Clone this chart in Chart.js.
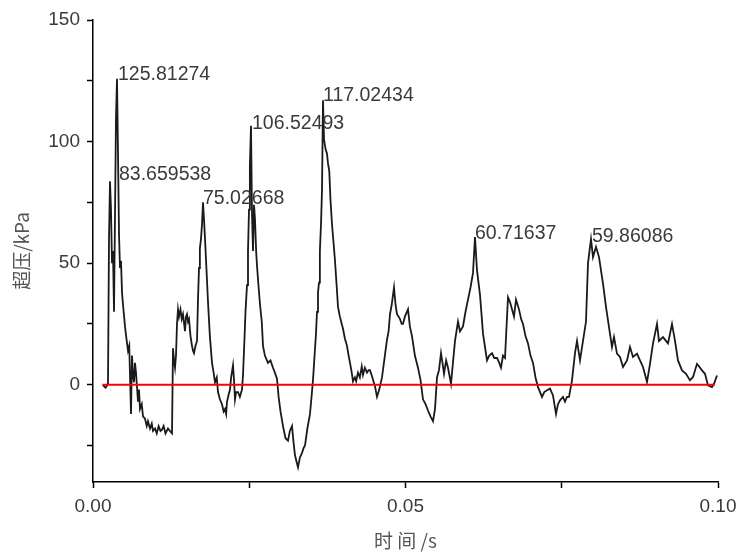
<!DOCTYPE html>
<html><head><meta charset="utf-8">
<script src="https://cdn.jsdelivr.net/npm/chart.js@4"></script>
<style>html,body{margin:0;padding:0;background:#fff}#wrap{width:737px;height:554px;position:relative}</style>
</head><body><div id="wrap"><canvas id="c" width="737" height="554"></canvas></div>
<script>
// time in seconds
const timeS = [
0.0016,0.0018,0.0020,0.0022,0.0024,0.00256,0.00272,0.00288,0.00304,0.0032,
0.00336,0.00352,0.00368,0.00384,0.004,0.00416,0.00432,0.00448,0.00464,0.0048,
0.00512,0.0053,0.0056,0.0058,0.00608,0.00624,0.0064,0.00656,0.00672,0.00688,
0.0072,0.00736,0.00752,0.0078,0.008,0.00832,0.0086,0.0088,0.00912,0.0094,
0.0096,0.00992,0.0102,0.0105,0.0108,0.01104,0.0113,0.0116,0.012,0.0123,
0.01264,0.0128,0.01296,0.01312,0.01328,0.01344,0.0136,0.01376,0.014,0.0142,
0.0144,0.01472,0.01488,0.01504,0.0152,0.01536,0.0156,0.01584,0.016,0.01616,
0.0164,0.01664,0.0168,0.01696,0.0171,0.01728,0.01744,0.0176,0.01776,0.01792,
0.0182,0.0184,0.0187,0.01904,0.0193,0.01952,0.0198,0.02,0.0203,0.02064,
0.0209,0.02112,0.0213,0.02144,0.0217,0.02192,0.0221,0.0224,0.02256,0.02272,
0.0229,0.0232,0.0235,0.02384,0.024,0.02416,0.0244,0.02464,0.0248,0.02496,
0.0251,0.02528,0.02544,0.0256,0.02576,0.02592,0.0261,0.02624,0.0265,0.02672,
0.027,0.0272,0.0275,0.028,0.0284,0.0288,0.0291,0.02944,0.0297,0.03,
0.0304,0.0308,0.0312,0.0315,0.03184,0.0321,0.03232,0.0326,0.0328,0.0331,
0.03344,0.0337,0.03392,0.0343,0.03472,0.035,0.0352,0.0355,0.03568,0.03584,
0.036,0.03616,0.0363,0.03648,0.03664,0.0368,0.03696,0.0372,0.03744,0.0376,
0.0378,0.038,0.03824,0.0385,0.03872,0.039,0.0392,0.0395,0.0398,0.04,
0.0403,0.04064,0.0409,0.04112,0.0414,0.0416,0.0419,0.0421,0.0424,0.0427,
0.043,0.0432,0.0435,0.04384,0.0441,0.04432,0.0447,0.04512,0.04544,0.0458,
0.04624,0.0466,0.04704,0.0473,0.04752,0.0478,0.04816,0.0484,0.04864,0.0489,
0.04912,0.0494,0.0496,0.0499,0.0504,0.0507,0.05104,0.0515,0.052,0.0524,
0.0528,0.0532,0.0536,0.054,0.0544,0.05472,0.05504,0.05536,0.05568,0.05592,
0.05616,0.0565,0.0568,0.05728,0.05792,0.0584,0.05872,0.0592,0.0596,0.06,
0.0604,0.0608,0.06112,0.06144,0.06192,0.0624,0.06304,0.0634,0.06384,0.0642,
0.06464,0.065,0.06528,0.0656,0.06592,0.0664,0.06672,0.06704,0.06736,0.06768,
0.06816,0.0685,0.0688,0.0692,0.0696,0.07,0.0704,0.0708,0.0712,0.07184,
0.0722,0.07264,0.07312,0.0736,0.07408,0.0744,0.07472,0.0752,0.07552,0.07584,
0.07616,0.07664,0.07712,0.07744,0.07792,0.0784,0.07888,0.0792,0.07968,0.08,
0.08048,0.08096,0.0816,0.08208,0.08256,0.08304,0.08336,0.08384,0.08432,0.0848,
0.08544,0.08592,0.0864,0.08704,0.08752,0.088,0.08864,0.08912,0.0896,0.09024,
0.09056,0.0912,0.092,0.09264,0.09312,0.0936,0.09424,0.09488,0.09552,0.096,
0.09664,0.09744,0.09792,0.0984,0.09904,0.09936,0.09984
];
// overpressure in kPa
const overpressure = [
0,-0.8,-1.2,-0.5,0.5,60,83.66,72,50,55,
30,70,110,125.81,95,62,48,51,38,33,
24,20,14,16,-12,12,4,1,9,5,
-7,-2,-10,-8,-13,-14,-17,-15,-18,-16,
-19,-18,-20,-17,-19,-18.5,-17,-20,-18,-19,
-20,15,10,7,12,25,31,28,31,27,
29,22,28,29,26,27,20,16,14,13,
16,18,35,48,56,60,66,75.03,68,60,
45,34,20,9,5,1,3,-3,-6,-8,
-11,-10,-12,-7,-4,-2,3,8,2,-6,
-3,-3,-5,-2,4,14,30,41,55,72,
90,106.52,70,55,74,68,55,49,40,33,
26,16,12,9,10,7,5,2.5,-5,-11,
-17,-22,-23,-19,-17,-24,-29,-32,-34,-30,
-28,-26,-25,-18,-12,-4,2,14,21,30,
38,42,55,66,80,117.02,101,97,95,91,
88,76,66,58,51,40,32,28,25,23,
19,16,12,9,5,1.4,3,1.5,5,3,
7.5,4,7,5,6,6,3,-0.7,-5,-2,
3,10,18.5,22,29,33,40,33,29,28,
27,25,25,28,31,24,20,12,7,2,
-6,-8,-10.6,-13,-15,-10,3,6,13,9,
4.5,10,7,0.4,18,26,22,24,30,35,
40,46,60.72,47,37,21,10,12,13,11,
11,9,7,12,11,36,34,31,28,35,
31,27,25,20,17,12,9,3,-1,-5,
-3,-2.3,-1.6,-4.4,-12,-8,-6.4,-5,-7,-5,
-5,1.8,13,18,10,18,26,50,59.86,52.5,
56.7,52.5,41.6,32,23.7,15.5,19.6,12.8,11.4,7.3,
10,15.5,11.4,12.8,10,7.3,1.1,8.6,17,25,
18,19.6,17,25,18,10,5.9,4.5,1.8,3.2,
8.6,5.9,4.5,-0.3,-1,0.4,3.8
];
const zeroLineT = [0.0015, 0.0995];
const zeroLineV = [0, 0];
const peakLabels = ['125.81274','83.659538','75.02668','106.52493','117.02434','60.71637','59.86086'];
const peakLabelT = [0.0040, 0.00416, 0.0176, 0.02544, 0.0368, 0.06112, 0.07984];
const peakLabelV = [125.5, 84.4, 74.5, 105.3, 116.5, 60.0, 58.8];
const xTicks = [0, 0.025, 0.05, 0.075, 0.1];
const xTickLabels = ['0.00', '', '0.05', '', '0.10'];
const yTicks = [-25, 0, 25, 50, 75, 100, 125, 150];
const yTickLabels = ['', '0', '', '50', '', '100', '', '150'];
const xTitle = '时 间 /s';
const yTitle = '超压/kPa';

const trace = timeS.map((t, i) => ({x: t, y: overpressure[i]}));
const zero = zeroLineT.map((t, i) => ({x: t, y: zeroLineV[i]}));

const peakLabelPlugin = {
  id: 'peakLabels',
  afterDatasetsDraw(chart) {
    const {ctx, scales} = chart;
    ctx.save();
    ctx.font = '19.5px "Liberation Sans", Arial, sans-serif';
    ctx.fillStyle = '#3a3a3a';
    ctx.textAlign = 'left';
    ctx.textBaseline = 'alphabetic';
    peakLabels.forEach((txt, i) => {
      ctx.fillText(txt, scales.x.getPixelForValue(peakLabelT[i]), scales.y.getPixelForValue(peakLabelV[i]));
    });
    ctx.restore();
  }
};

new Chart(document.getElementById('c'), {
  type: 'scatter',
  data: {
    datasets: [
      {data: zero, showLine: true, borderColor: '#ff0000', borderWidth: 2.2, pointRadius: 0, tension: 0},
      {data: trace, showLine: true, borderColor: '#1a1a1a', borderWidth: 1.8, pointRadius: 0, tension: 0}
    ]
  },
  options: {
    responsive: false,
    animation: false,
    devicePixelRatio: 1,
    layout: {padding: {top: 20, right: 19, left: 0, bottom: 0}},
    plugins: {legend: {display: false}, tooltip: {enabled: false}},
    scales: {
      x: {
        type: 'linear', min: 0, max: 0.1,
        afterBuildTicks: s => { s.ticks = xTicks.map(v => ({value: v})); },
        afterFit: s => { s.height = 72; s.paddingLeft = 0; s.paddingRight = 0; },
        ticks: {
          callback: (v, i) => xTickLabels[i],
          font: {family: '"Liberation Sans", Arial, sans-serif', size: 19},
          color: '#3a3a3a', padding: 7, maxRotation: 0, autoSkip: false
        },
        grid: {drawOnChartArea: false, drawTicks: true, tickLength: 6, tickColor: '#000', tickWidth: 1.5},
        border: {display: true, color: '#000', width: 1.5},
        title: {display: true, text: xTitle, color: '#555',
          font: {family: '"Noto Sans CJK SC", "Liberation Sans", sans-serif', size: 19},
          padding: {top: 0, bottom: 2}}
      },
      y: {
        type: 'linear', min: -40, max: 150,
        afterBuildTicks: s => { s.ticks = yTicks.map(v => ({value: v})); },
        afterFit: s => { s.width = 93; s.paddingTop = 0; s.paddingBottom = 0; },
        ticks: {
          callback: (v, i) => yTickLabels[i],
          font: {family: '"Liberation Sans", Arial, sans-serif', size: 19},
          color: '#3a3a3a', padding: 7, autoSkip: false
        },
        grid: {drawOnChartArea: false, drawTicks: true, tickLength: 6, tickColor: '#000', tickWidth: 1.5},
        border: {display: true, color: '#000', width: 1.5},
        title: {display: true, text: yTitle, color: '#555',
          font: {family: '"Noto Sans CJK SC", "Liberation Sans", sans-serif', size: 19},
          padding: {top: 10, bottom: 0}}
      }
    }
  },
  plugins: [peakLabelPlugin]
});
</script>
</body></html>
